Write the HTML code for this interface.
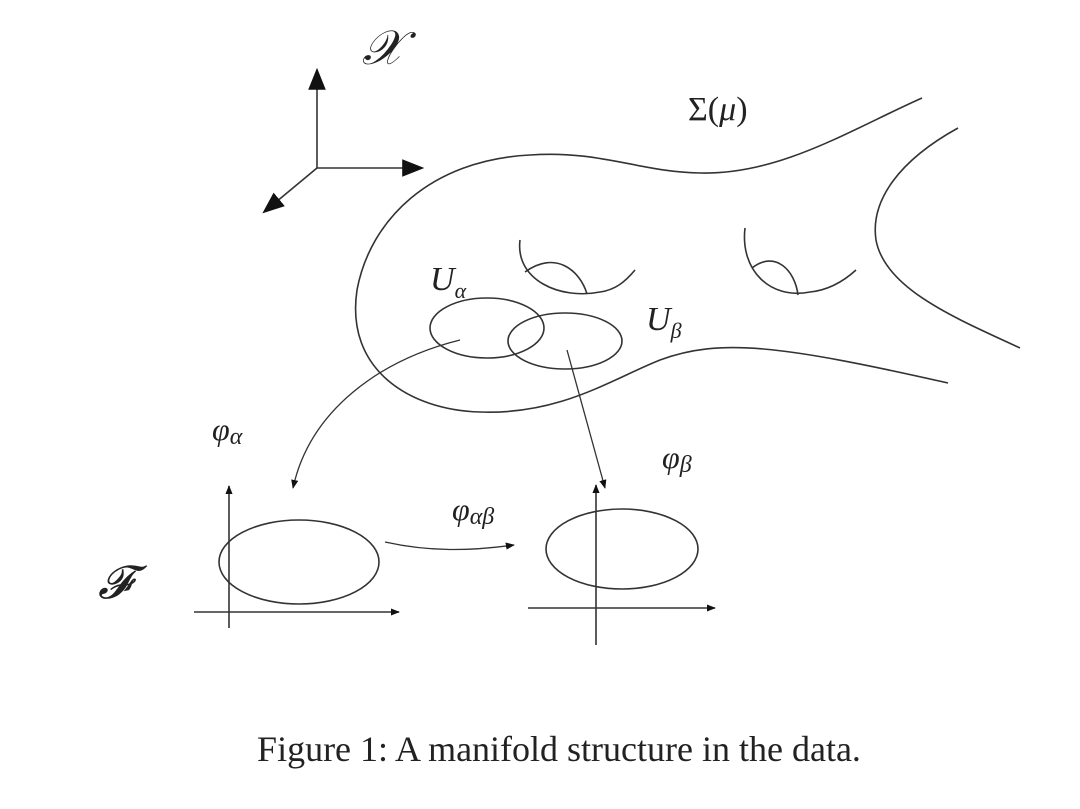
<!DOCTYPE html>
<html><head><meta charset="utf-8"><style>
html,body{margin:0;padding:0;background:#fff;}
svg{display:block}
text{font-family:"Liberation Serif",serif;fill:#222}
</style></head><body>
<svg width="1080" height="809" viewBox="0 0 1080 809" xmlns="http://www.w3.org/2000/svg">
<defs>
<marker id="a" viewBox="0 0 10 10" refX="9" refY="5" markerWidth="9" markerHeight="9" orient="auto" markerUnits="userSpaceOnUse"><path d="M0,1 L10,5 L0,9 z" fill="#111"/></marker>
<marker id="b" viewBox="0 0 10 10" refX="9" refY="5" markerWidth="22" markerHeight="22" orient="auto" markerUnits="userSpaceOnUse"><path d="M0,1 L10,5 L0,9 z" fill="#111"/></marker>
</defs>
<g fill="none" stroke="#333" stroke-width="1.6">
<line x1="317" y1="168" x2="317" y2="70" marker-end="url(#b)"/>
<line x1="317" y1="168" x2="422" y2="168" marker-end="url(#b)"/>
<line x1="317" y1="168" x2="264" y2="212" marker-end="url(#b)"/>
<path d="M922,98 C850,130 780,175 700,173 C640,172 600,150 530,155 C430,160 370,220 357,290 C345,370 410,410 480,412 C560,415 610,380 660,360 C720,338 780,345 948,383"/>
<path d="M958,128 C900,160 870,200 876,240 C885,290 960,320 1020,348"/>
<path d="M520,240 C515,280 560,300 600,292 C615,290 625,282 635,270"/>
<path d="M525,272 C555,250 580,270 587,294"/>
<path d="M745,228 C740,270 770,300 810,292 C830,290 845,280 856,270"/>
<path d="M752,268 C775,250 795,270 798,295"/>
<ellipse cx="487" cy="328" rx="57" ry="30"/>
<ellipse cx="565" cy="341" rx="57" ry="28"/>
<path d="M460,340 C380,360 310,410 293,488" stroke-width="1.3" marker-end="url(#a)"/>
<line x1="567" y1="350" x2="605" y2="488" stroke-width="1.3" marker-end="url(#a)"/>
<line x1="229" y1="628" x2="229" y2="486" marker-end="url(#a)"/>
<line x1="194" y1="612" x2="399" y2="612" marker-end="url(#a)"/>
<ellipse cx="299" cy="562" rx="80" ry="42"/>
<line x1="596" y1="645" x2="596" y2="485" marker-end="url(#a)"/>
<line x1="528" y1="608" x2="715" y2="608" marker-end="url(#a)"/>
<ellipse cx="622" cy="549" rx="76" ry="40"/>
<path d="M385,542 C430,552 470,551 514,545" stroke-width="1.3" marker-end="url(#a)"/>
</g>
<text x="362" y="64" font-size="48" font-style="italic">𝒳</text>
<text x="688" y="120" font-size="34">Σ(<tspan font-style="italic">μ</tspan>)</text>
<text x="430" y="290" font-size="34" font-style="italic">U<tspan font-size="22" dy="8">α</tspan></text>
<text x="646" y="330" font-size="34" font-style="italic">U<tspan font-size="22" dy="8">β</tspan></text>
<text x="212" y="440" font-size="32" font-style="italic">φ<tspan font-size="24" dy="4">α</tspan></text>
<text x="662" y="468" font-size="32" font-style="italic">φ<tspan font-size="24" dy="4">β</tspan></text>
<text x="452" y="520" font-size="32" font-style="italic">φ<tspan font-size="24" dy="4">αβ</tspan></text>
<text x="98" y="598" font-size="46" font-style="italic">𝓕</text>
<text x="559" y="761" font-size="36" text-anchor="middle">Figure 1: A manifold structure in the data.</text>
</svg>
</body></html>
